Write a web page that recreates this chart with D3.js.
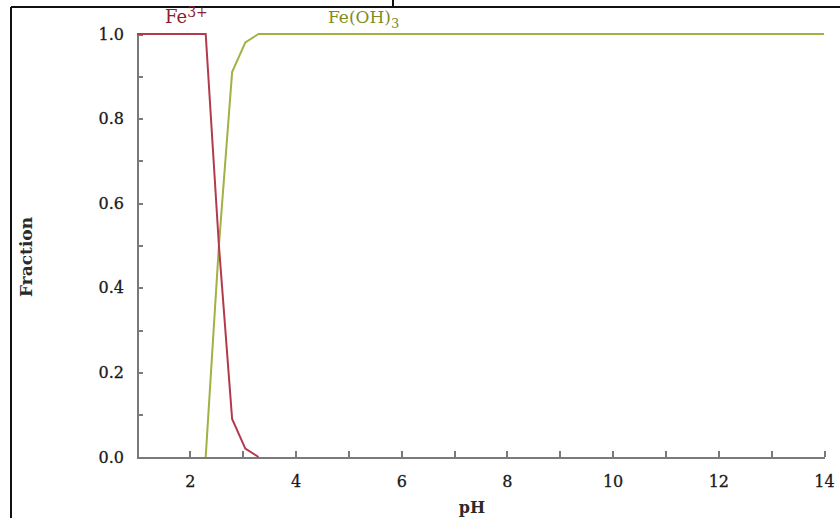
<!DOCTYPE html>
<head>
  <meta charset="utf-8">
  <title>Fe speciation</title>
  <script src="https://d3js.org/d3.v7.min.js"></script>
  <style>
    body { margin: 0; background: #fff; }
    .axis path, .axis line { stroke: #7a7a7a; stroke-width: 2; shape-rendering: crispEdges; }
    .axis text { font-family: "DejaVu Serif", serif; font-size: 16px; fill: #1a1a1a; stroke: #1a1a1a; stroke-width: 0.3; }
  </style>
</head>
<body>
<script type="text/javascript">
  var w = 840, h = 518;

  // data
  var phTicks = [1, 2, 3, 4, 5, 6, 7, 8, 9, 10, 11, 12, 13, 14];
  var fracTicks = [0, 0.1, 0.2, 0.3, 0.4, 0.5, 0.6, 0.7, 0.8, 0.9, 1.0];
  var phFe3 = [1, 2.3, 2.55, 2.8, 3.05, 3.3];
  var fracFe3 = [1, 1, 0.5, 0.09, 0.02, 0];
  var phFeOH3 = [2.3, 2.55, 2.8, 3.05, 3.3, 14];
  var fracFeOH3 = [0, 0.5, 0.91, 0.98, 1, 1];

  var svg = d3.select("body").append("svg")
    .attr("width", w).attr("height", h);

  // frame bits from the cropped figure
  svg.append("line").attr("x1", 11).attr("y1", 7).attr("x2", w).attr("y2", 7)
    .attr("stroke", "#111").attr("stroke-width", 2);
  svg.append("line").attr("x1", 11).attr("y1", 7).attr("x2", 11).attr("y2", h)
    .attr("stroke", "#111").attr("stroke-width", 2);
  svg.append("line").attr("x1", 393).attr("y1", 0).attr("x2", 393).attr("y2", 7)
    .attr("stroke", "#111").attr("stroke-width", 2);

  var xScale = d3.scaleLinear().domain([1, 14]).range([137, 824]);
  var yScale = d3.scaleLinear().domain([0, 1]).range([457, 34]);

  var xAxis = d3.axisBottom(xScale)
    .tickValues(phTicks)
    .tickSizeInner(-6).tickSizeOuter(0).tickPadding(19)
    .tickFormat(function(d) { return (d % 2 === 0) ? d : ""; });

  var yAxis = d3.axisLeft(yScale)
    .tickValues(fracTicks)
    .tickSizeInner(-6).tickSizeOuter(0).tickPadding(13)
    .tickFormat(function(d) {
      return (Math.round(d * 10) % 2 === 0) ? d3.format(".1f")(d) : "";
    });

  svg.append("g").attr("class", "axis")
    .attr("transform", "translate(0," + yScale(0) + ")")
    .call(xAxis);

  svg.append("g").attr("class", "axis")
    .attr("transform", "translate(" + xScale(1) + ",0)")
    .call(yAxis);

  var line = d3.line()
    .x(function(d) { return xScale(d[0]); })
    .y(function(d) { return yScale(d[1]); });

  svg.append("path")
    .datum(d3.zip(phFeOH3, fracFeOH3))
    .attr("d", line)
    .attr("fill", "none")
    .attr("stroke", "#a3b044")
    .attr("stroke-width", 2);

  svg.append("path")
    .datum(d3.zip(phFe3, fracFe3))
    .attr("d", line)
    .attr("fill", "none")
    .attr("stroke", "#b33a4c")
    .attr("stroke-width", 2);

  // species labels
  var t1 = svg.append("text")
    .attr("x", 165).attr("y", 23)
    .attr("font-family", "DejaVu Serif, serif").attr("font-size", 18)
    .attr("fill", "#8e1f2e");
  t1.append("tspan").text("Fe");
  t1.append("tspan").attr("dy", -6).attr("font-size", 14).text("3+");

  var t2 = svg.append("text")
    .attr("x", 328).attr("y", 23)
    .attr("font-family", "DejaVu Serif, serif").attr("font-size", 17)
    .attr("fill", "#7f8c22");
  t2.append("tspan").text("Fe(OH)");
  t2.append("tspan").attr("dy", 5).attr("font-size", 13).text("3");

  // axis titles
  svg.append("text")
    .attr("x", 472).attr("y", 513)
    .attr("text-anchor", "middle")
    .attr("font-family", "DejaVu Serif, serif").attr("font-size", 16)
    .attr("font-weight", "bold").attr("fill", "#2a2a2a")
    .text("pH");

  svg.append("text")
    .attr("transform", "translate(32,257) rotate(-90)")
    .attr("text-anchor", "middle")
    .attr("font-family", "DejaVu Serif, serif").attr("font-size", 17)
    .attr("font-weight", "bold").attr("fill", "#2a2a2a")
    .text("Fraction");
</script>
</body>
</html>
